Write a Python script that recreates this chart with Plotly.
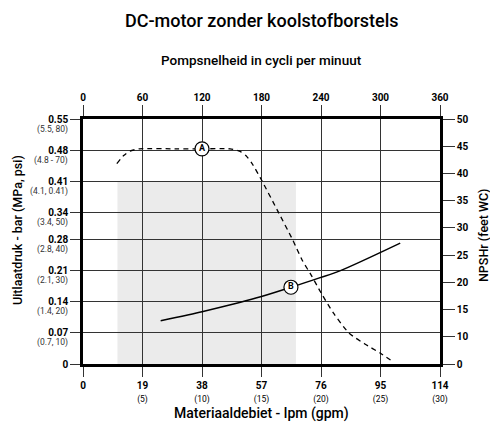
import plotly.graph_objects as go

FONT = "Roboto, Liberation Sans, Arial, sans-serif"

# ---- data ----
flow_ticks = [0, 19, 38, 57, 76, 95, 114]
flow_gpm = ["", "(5)", "(10)", "(15)", "(20)", "(25)", "(30)"]
cpm_ticks = [0, 60, 120, 180, 240, 300, 360]
bar_ticks = [0, 0.07, 0.14, 0.21, 0.28, 0.34, 0.41, 0.48, 0.55]
bar_sub = ["", "(0.7, 10)", "(1.4, 20)", "(2.1, 30)", "(2.8, 40)", "(3.4, 50)",
           "(4.1, 0.41)", "(4.8 - 70)", "(5.5, 80)"]
npsh_ticks = [5, 10, 15, 20, 25, 30, 35, 40, 45, 50]
npsh_labels = ["0", "10", "15", "20", "25", "30", "35", "40", "45", "50"]

# Curve A: outlet pressure (bar) vs flow (lpm)
a_flow = [10.8, 13, 15, 18, 30, 38, 47, 50, 52, 54, 57, 62, 67, 70, 73, 76, 80, 85, 90, 95, 99]
a_bar = [0.45, 0.468, 0.478, 0.483, 0.483, 0.483, 0.483, 0.478, 0.468, 0.45, 0.413,
         0.346, 0.278, 0.233, 0.198, 0.16, 0.114, 0.069, 0.045, 0.024, 0.005]
# Curve B: NPSHr (feet WC) vs flow (lpm)
b_flow = [24.8, 38, 50, 57, 66.4, 82, 101.3]
b_ft = [12.95, 14.6, 16.3, 17.4, 19.1, 22.1, 27.2]

label_a = ("A", 38, 0.483)
label_b = ("B", 66.4, 19.1)

# operating range (shaded)
range_flow = [11, 68]
range_bar = [0, 0.41]

fig = go.Figure()

fig.add_trace(go.Scatter(x=a_flow, y=a_bar, mode="lines",
                         line=dict(color="black", width=1.3, dash="5px,4px", shape="spline", smoothing=0.6),
                         hoverinfo="skip", showlegend=False))
fig.add_trace(go.Scatter(x=b_flow, y=b_ft, mode="lines", yaxis="y2",
                         line=dict(color="black", width=1.4, shape="spline", smoothing=0.6),
                         hoverinfo="skip", showlegend=False))
fig.add_trace(go.Scatter(x=[label_a[1]], y=[label_a[2]], mode="markers+text", text=["<b>" + label_a[0] + "</b>"],
                         textposition="middle center", textfont=dict(family=FONT, size=9, color="black"),
                         marker=dict(size=14, color="white", line=dict(color="black", width=1.2)),
                         hoverinfo="skip", showlegend=False))
fig.add_trace(go.Scatter(x=[label_b[1]], y=[label_b[2]], mode="markers+text", yaxis="y2", text=["<b>" + label_b[0] + "</b>"],
                         textposition="middle center", textfont=dict(family=FONT, size=9, color="black"),
                         marker=dict(size=14, color="white", line=dict(color="black", width=1.2)),
                         hoverinfo="skip", showlegend=False))
# invisible trace to carry the top (cycles per minute) axis
fig.add_trace(go.Scatter(x=[cpm_ticks[0], cpm_ticks[-1]], y=[0, 0], xaxis="x2", mode="lines",
                         line=dict(width=0), opacity=0, hoverinfo="skip", showlegend=False))

fig.add_shape(type="rect", xref="x", yref="y", x0=range_flow[0], x1=range_flow[1],
              y0=range_bar[0], y1=range_bar[1], fillcolor="#ebebeb", line=dict(width=0), layer="below")

tickfont = dict(family=FONT, size=10, color="black")
axis_common = dict(showline=True, linewidth=2.5, linecolor="black", ticks="outside",
                   tickcolor="#333", tickwidth=1, zeroline=False, tickfont=tickfont, fixedrange=True)

fig.update_layout(
    width=490, height=416,
    margin=dict(l=75, r=58, t=111, b=60),
    paper_bgcolor="white", plot_bgcolor="white",
    font=dict(family=FONT),
    xaxis=dict(range=[flow_ticks[0], flow_ticks[-1]], tickmode="array", tickvals=flow_ticks,
               ticktext=["<b>%d</b>" % v + ("<br><span style='font-size:8.5px;font-weight:normal'>%s</span>" % s if s else "")
                         for v, s in zip(flow_ticks, flow_gpm)],
               showgrid=True, gridcolor="#333", gridwidth=1, ticklen=10, **axis_common),
    xaxis2=dict(range=[cpm_ticks[0], cpm_ticks[-1]], overlaying="x", side="top", anchor="y", tickmode="array",
                tickvals=cpm_ticks, ticktext=["<b>%d</b>" % v for v in cpm_ticks],
                showgrid=False, ticklen=11, **axis_common),
    yaxis=dict(range=[bar_ticks[0], bar_ticks[-1]], tickmode="array", tickvals=bar_ticks,
               ticktext=["<b>%g</b>" % v for v in bar_ticks],
               showgrid=True, gridcolor="#333", gridwidth=1, ticklen=10, **axis_common),
    yaxis2=dict(range=[npsh_ticks[0], npsh_ticks[-1]], overlaying="y", side="right", anchor="x", tickmode="array",
                tickvals=npsh_ticks, ticktext=["<b>%s</b>" % t for t in npsh_labels],
                showgrid=False, ticklen=12, **axis_common),
)

title_font = lambda s: dict(family=FONT, size=s, color="black", weight=500)

ann = []
for v, s in zip(bar_ticks, bar_sub):
    if s:
        ann.append(dict(text=s, xref="paper", yref="y", x=0, y=v, xanchor="right", yanchor="middle",
                        xshift=-13, yshift=-10, showarrow=False,
                        font=dict(family=FONT, size=8.5, color="#333")))
ann += [
    dict(text="DC-motor zonder koolstofborstels", xref="paper", yref="paper", x=0.5, y=(364 - 20) / 245,
         xanchor="center", yanchor="middle", showarrow=False, font=title_font(18)),
    dict(text="Pompsnelheid in cycli per minuut", xref="paper", yref="paper", x=0.5, y=(364 - 60) / 245,
         xanchor="center", yanchor="middle", showarrow=False, font=title_font(13.5)),
    dict(text="Materiaaldebiet - lpm (gpm)", xref="paper", yref="paper", x=0.5, y=(364 - 413) / 245,
         xanchor="center", yanchor="middle", showarrow=False, font=title_font(14)),
    dict(text="Uitlaatdruk - bar (MPa, psi)", xref="paper", yref="paper", x=(17 - 83) / 357, y=(364 - 230) / 245,
         xanchor="center", yanchor="middle", textangle=-90, showarrow=False, font=title_font(12.5)),
    dict(text="NPSHr (feet WC)", xref="paper", yref="paper", x=(483 - 83) / 357, y=(364 - 236) / 245,
         xanchor="center", yanchor="middle", textangle=-90, showarrow=False, font=title_font(12.5)),
]
fig.update_layout(annotations=ann)

fig.write_html("out.html")
